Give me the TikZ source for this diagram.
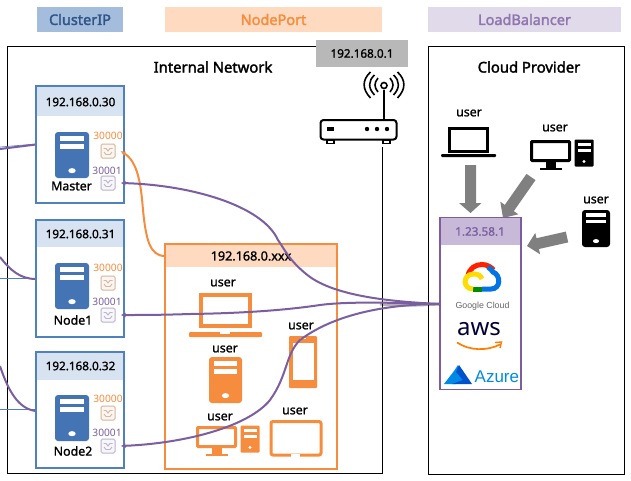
\documentclass[tikz,border=0pt]{standalone}
\usepackage{fontspec}
\setmainfont{Noto Sans}
\newfontfamily\semi[FakeBold=1.2]{Noto Sans}
\newfontfamily\heavy[FakeBold=2]{Noto Sans}
\newfontfamily\lightf{Liberation Sans}
\usetikzlibrary{arrows.meta}
\definecolor{nodeblue}{HTML}{4F81BD}
\definecolor{iconblue}{HTML}{4474B4}
\definecolor{headblue}{HTML}{D7E3F1}
\definecolor{orangeC}{HTML}{F68D3E}
\definecolor{headorange}{HTML}{FDDAC0}
\definecolor{purpleC}{HTML}{7B5EA0}
\definecolor{headpurple}{HTML}{C9B9D8}
\definecolor{lbfill}{HTML}{E1DAEA}
\definecolor{cipfill}{HTML}{A5BDDC}
\definecolor{cipText}{HTML}{2F5487}
\definecolor{grayBox}{HTML}{B8B8B8}
\definecolor{arrowGray}{HTML}{808080}
\definecolor{porto}{HTML}{D9B79C}
\definecolor{portp}{HTML}{BDB5CF}
\tikzset{
  x=1pt,y=-1pt,
  frame/.style={draw=black,line width=1pt},
  tabbox/.style={minimum height=25pt,inner sep=0pt,font=\heavy\fontsize{14.5}{14.5}\selectfont},
  ttl/.style={font=\heavy\fontsize{14.8}{14.8}\selectfont,inner sep=0pt},
  ip/.style={font=\semi\fontsize{11.7}{11.7}\selectfont,inner sep=0pt,text=black},
  usr/.style={font=\semi\fontsize{12.4}{12.4}\selectfont,inner sep=0pt},
  pnum/.style={font=\fontsize{10.2}{10.2}\selectfont,inner sep=0pt},
  portbox/.style={minimum size=14pt,inner sep=0pt,rounded corners=1.5pt,line width=1pt},
  conn/.style={draw=purpleC,line width=2pt,-{Latex[length=5pt,width=5pt]}},
  conno/.style={draw=orangeC,line width=2pt,-{Latex[length=5pt,width=5pt]}},
  shade/.style={draw=black,opacity=.3,line width=3pt},
  thinb/.style={draw=nodeblue,line width=.6pt},
}
% server: top-left x,y, colour
\newcommand{\srv}[5]{%
  \begin{scope}[shift={(#1,#2)}]
   \fill[#3,rounded corners=3pt] (0,0) rectangle (#4,#5);
   \fill[white] (0.15*#4,0.09*#5) rectangle (0.85*#4,0.19*#5);
   \fill[white] (0.15*#4,0.26*#5) rectangle (0.85*#4,0.36*#5);
   \fill[white] (0.5*#4,0.84*#5) ellipse [x radius=0.11*#4,y radius=0.055*#5];
  \end{scope}}
\newcommand{\portic}[4]{% name x y colour
  \fill[#4!7] (#2-8,#3-8) rectangle (#2+8,#3+8);
  \node[portbox,draw=#4,fill=#4!12] (#1) at (#2,#3) {};
  \draw[#4,line width=.9pt] (#2-4.5,#3-2.5) -- (#2-2,#3-2.5) -- (#2,#3) -- (#2+2,#3-2.5) -- (#2+4.5,#3-2.5);
  \draw[#4,line width=.9pt] (#2-4,#3+1) -- (#2-2,#3+3.5) -- (#2+2,#3+3.5) -- (#2+4,#3+1);}
% desktop: monitor + tower
\newcommand{\desk}[1]{%
  \draw[#1,line width=3pt,rounded corners=.8pt] (0,0) rectangle (38,19);
  \fill[#1] (14,20) rectangle (24,27);
  \fill[#1] (8,26) rectangle (30,28.5);
  \fill[#1,rounded corners=1pt] (43,-2) rectangle (62,25);
  \fill[white] (46,1) rectangle (59,4);
  \fill[white] (46,7) rectangle (59,10);
  \fill[white] (52.5,20) circle (1.6pt);}
\begin{document}
\begin{tikzpicture}
\useasboundingbox (0,0) rectangle (631,480);
\fill[white] (0,0) rectangle (631,480);
% tabs
\node[tabbox,fill=cipfill,text=cipText,minimum width=86pt] (tabc) at (80,19.5) {ClusterIP};
\node[tabbox,fill=headorange,text=orangeC,minimum width=217pt] (tabn) at (273.5,19.5) {NodePort};
\node[tabbox,fill=lbfill,text=purpleC!85,minimum width=193pt] (tabl) at (524.5,19.5) {LoadBalancer};
% frames
\draw[frame] (382.5,147) -- (382.5,473.5) -- (7,473.5) -- (7,46.5) -- (316,46.5);
\draw[frame] (428,46.5) rectangle (624,474);
\node[fill=grayBox,minimum width=92pt,minimum height=27pt,ip] (gw) at (362,53.5) {192.168.0.1};
\node[ttl] (tint) at (213,67) {Internal Network};
\node[ttl] (tcld) at (529,67) {Cloud Provider};
% left edge lines
\draw[thinb] (0,278) -- (36,278);
\draw[thinb] (0,409) -- (36,409);
\draw[thinb] (0,147) -- (36,144);
\draw[purpleC,line width=2pt] (0,149) -- (36,144.5);
\draw[purpleC,line width=2pt] (0,257) .. controls (10,270) and (20,279) .. (36,279);
\draw[purpleC,line width=2pt] (0,366) .. controls (8,390) and (18,409) .. (36,411);
% node boxes
\foreach \ya/\yb/\yc in {86/116/203,220/247/337,352/380/468}{
  \fill[white] (36,\ya) rectangle (124,\yc);
  \fill[headblue] (36,\ya) rectangle (124,\yb);
  \draw[nodeblue,line width=1.8pt] (36,\ya) rectangle (124,\yc);
}
\node[ip] (hm) at (80.5,102) {192.168.0.30};
\node[ip] (ha) at (80.5,234) {192.168.0.31};
\node[ip] (hb) at (80.5,366) {192.168.0.32};
\srv{55}{132}{iconblue}{34}{46}
\srv{55}{263}{iconblue}{34}{46}
\srv{55}{395}{iconblue}{34}{46}
\node[usr] (lm) at (71.5,186) {Master};
\node[usr] (la) at (73,320) {Node1};
\node[usr] (lb2) at (73,451) {Node2};
\foreach \yy/\tn in {136/p,268/q,399/r}{\node[pnum,text=orangeC] (\tn n) at (108,\yy) {30000};}
\foreach \yy/\tn in {171/u,302/v,433/w}{\node[pnum,text=purpleC] (\tn n) at (107,\yy) {30001};}
\portic{pm}{108}{151}{porto}
\portic{um}{108}{183}{portp}
\portic{pa}{108}{283}{porto}
\portic{ua}{108}{315}{portp}
\portic{pb}{108}{413}{porto}
\portic{ub}{108}{446}{portp}
% NodePort box
\fill[white] (165,244) rectangle (337,469);
\fill[headorange] (165,244) rectangle (337,267);
\draw[orangeC,line width=1.8pt] (165,244) rectangle (337,469);
\coordinate (npw) at (165,256);
\node[ip,font=\semi\fontsize{12.6}{12.6}\selectfont] (hx) at (251,256) {192.168.0.xxx};
\node[usr] (u1) at (223,283) {user};
\draw[orangeC,line width=4.4pt] (201.2,295.2) rectangle (250,326);
\fill[orangeC,rounded corners=1pt] (189,332) rectangle (262,337);
\fill[white] (220,332) rectangle (230,333.5);
\node[usr] (u2) at (225,349) {user};
\srv{209}{357}{orangeC}{33}{46}
\node[usr] (u3) at (301,326) {user};
\fill[orangeC,rounded corners=1pt] (289,336) rectangle (317,388);
\fill[white] (292.5,343) rectangle (314,380);
\fill[white] (300,337.5) rectangle (306,339);
\node[usr] (u4) at (220,417) {user};
\begin{scope}[shift={(197.5,427.5)}]\desk{orangeC}\end{scope}
\node[usr] (u5) at (295,411) {user};
\draw[orangeC,line width=3pt,rounded corners=2pt] (271,421.5) rectangle (321,455);
\fill[white] (291,453.5) rectangle (300,456.5);
% router
\fill[black] (326,139) rectangle (335,144);
\fill[black] (382,139) rectangle (391,144);
\fill[white] (328,140.5) rectangle (333,142.5);
\fill[white] (384,140.5) rectangle (389,142.5);
\draw[black,line width=2pt,rounded corners=3pt,fill=white] (320.5,120) rectangle (396.5,139.5);
\fill[black] (327,126.5) rectangle (334,131);
\foreach \xx in {367,377,387}{\fill[black] (\xx,129) circle (2.2pt);}
\draw[black,line width=2pt] (384,120) -- (384,90);
\draw[black,line width=1.6pt] (384,85.5) circle (3pt);
\draw[black,line width=1.6pt] (378,92) .. controls (374,87) and (374,83) .. (378,78);
\draw[black,line width=1.6pt] (390,92) .. controls (394,87) and (394,83) .. (390,78);
\draw[black,line width=1.6pt] (374.5,95) .. controls (368,88) and (368,81) .. (374.5,75);
\draw[black,line width=1.6pt] (393.5,95) .. controls (400,88) and (400,81) .. (393.5,75);
\draw[black,line width=1.6pt] (370.5,98) .. controls (362,89) and (362,80) .. (370.5,72);
\draw[black,line width=1.6pt] (397.5,98) .. controls (406,89) and (406,80) .. (397.5,72);
% cloud users
\node[usr] (c1) at (469,113) {user};
\draw[black,line width=3pt] (449.5,128.5) rectangle (487,151);
\fill[black,rounded corners=1pt] (441,154) rectangle (496,157);
\node[usr] (c2) at (555,128) {user};
\begin{scope}[shift={(531.5,141.5)}]\desk{black}\end{scope}
\node[usr] (c3) at (596,200) {user};
\srv{582}{210}{black}{28}{37}
% gray arrows
\fill[arrowGray] (465,165) -- (476,165) -- (476,203) -- (481.5,203) -- (470.5,213) -- (459,203) -- (465,203) -- cycle;
\fill[arrowGray] (535.5,180.1) -- (526.5,173.9) -- (504.8,204.9) -- (500.3,201.7) -- (503,218) -- (518.3,214.3) -- (513.8,211.1) -- cycle;
\fill[arrowGray] (568.2,242.4) -- (565.8,231.6) -- (536.5,238.2) -- (535.3,232.9) -- (527,246) -- (540.1,254.3) -- (538.9,249) -- cycle;
% LB box
\fill[white] (440,217.5) rectangle (521,389.5);
\fill[headpurple] (440,217.5) rectangle (521,245);
\draw[purpleC,line width=1.8pt] (440,217.5) rectangle (521,389.5);
\node[ip,text=purpleC] (hl) at (480,231.5) {1.23.58.1};
\coordinate (lbw) at (440,304);
% Google Cloud
\begin{scope}[line width=5pt]
 \draw[red!75!orange] (468,276) .. controls (469,268) and (476,264.5) .. (482,264.5) .. controls (487,264.5) and (491,267) .. (493.5,270);
 \draw[blue!50!cyan!90!black] (482,289) -- (491,289) .. controls (501,289) and (501,275) .. (493,272) .. controls (492,271) and (490,268) .. (488,267);
 \draw[green!55!black] (473,289) -- (482,289);
 \draw[yellow!80!orange] (473,289) .. controls (463,289) and (462,275) .. (473,274) .. controls (478,273.5) and (481,276) .. (482,279);
\end{scope}
\node[inner sep=0pt,font=\lightf\fontsize{8.8}{8.8}\selectfont,text=black!60] (gcl) at (482.5,306.5) {Google Cloud};
\node[inner sep=0pt,font=\fontsize{24}{24}\selectfont,text=black!80!blue] (aws) at (479,329) {aws};
\draw[orange,line width=1.7pt] (457,342.5) .. controls (470,351) and (487,351) .. (500,344.5);
\draw[orange,line width=1.4pt] (495,342.5) -- (501.5,342) -- (500,348);
\fill[blue!40!cyan!90!black] (444,384) -- (454,371) -- (458,365) -- (464,380) -- (456,384) -- cycle;
\fill[blue!60!cyan!80!black] (459,365) -- (472,384) -- (452,384) -- (463,380) -- (456,372) -- cycle;
\node[inner sep=0pt,font=\lightf\fontsize{17}{17}\selectfont,text=blue!40!cyan!90!black,anchor=west] (az) at (474.5,376.5) {Azure};
% shadow near LB
\draw[shade] (lbw) .. controls (420,305) and (400,306) .. (380,304);
% connectors
\draw[conno] (npw) .. controls (150,256) and (146,240) .. (143,210) .. controls (141,185) and (138,162) .. ([xshift=5pt]pm.east);
\draw[conn] (lbw) .. controls (400,302) and (340,298) .. (310,277) .. controls (290,262) and (285,250) .. (278,240) .. controls (262,205) and (190,185) .. ([xshift=5pt]um.east);
\draw[conn] (lbw) .. controls (400,303) and (350,301) .. (320,305) .. controls (300,308) and (260,313) .. (190,314) .. controls (160,315) and (140,315) .. ([xshift=5pt]ua.east);
\draw[conn] (lbw) .. controls (400,304) and (340,310) .. (300,340) .. controls (285,355) and (288,375) .. (270,400) .. controls (250,425) and (190,443) .. ([xshift=5pt]ub.east);
\end{tikzpicture}
\end{document}
